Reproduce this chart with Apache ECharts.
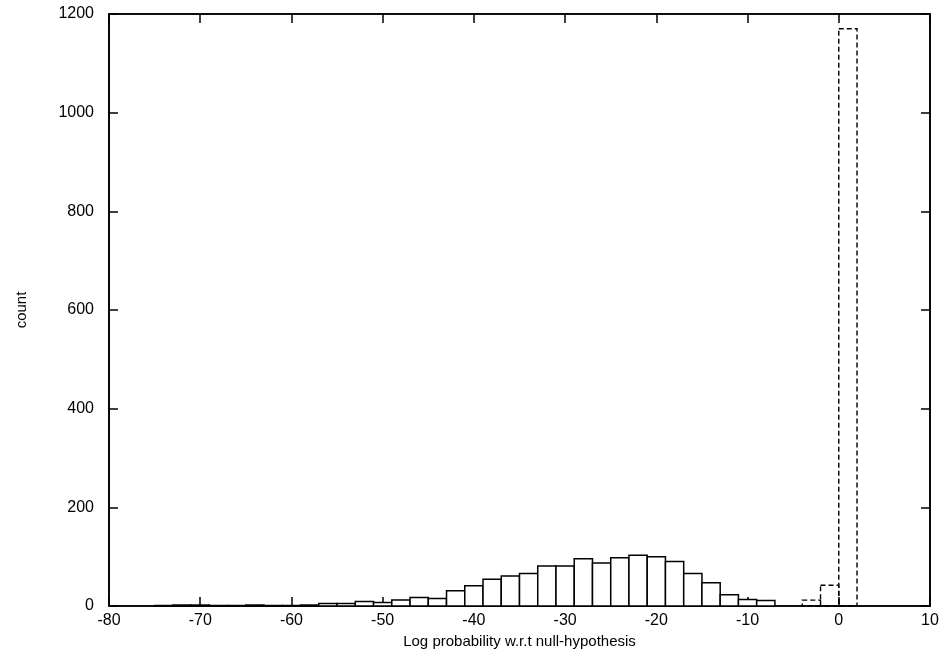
<!DOCTYPE html>
<html>
<head>
<meta charset="utf-8">
<script src="https://cdn.jsdelivr.net/npm/echarts@6/dist/echarts.min.js"></script>
<style>
  html, body { margin: 0; padding: 0; background: #fff; }
  #chart { width: 946px; height: 666px; }
</style>
</head>
<body>
<div id="chart"></div>
<script>
// Histogram of log probabilities (bin width 2)
const binWidth = 2;

// Solid histogram: bin centres and counts
const solidCenters = [-74, -72, -70, -68, -66, -64, -62, -60, -58, -56, -54, -52, -50, -48,
  -46, -44, -42, -40, -38, -36, -34, -32, -30, -28, -26, -24, -22, -20, -18, -16, -14, -12, -10, -8];
const solidCounts = [1, 2, 2, 1, 1, 2, 1, 1, 2, 5, 5, 9, 7, 12,
  17, 15, 31, 41, 54, 61, 66, 81, 81, 96, 87, 98, 103, 100, 90, 66, 47, 23, 13, 11];

// Dashed histogram: bin centres and counts
const dashedCenters = [-3, -1, 1];
const dashedCounts = [12, 42, 1170];

// Axis ticks
const xTicks = { min: -80, max: 10, step: 10 };
const yTicks = { min: 0, max: 1200, step: 200 };

const font = 'Liberation Sans, Arial, Helvetica, sans-serif';

function pairs(xs, ys) { return xs.map((x, i) => [x, ys[i]]); }

function makeRender(styleObj) {
  return function (params, api) {
    const c = api.value(0), v = api.value(1);
    const p0 = api.coord([c - binWidth / 2, v]);
    const p1 = api.coord([c + binWidth / 2, 0]);
    return {
      type: 'rect',
      shape: { x: p0[0], y: p0[1], width: p1[0] - p0[0], height: p1[1] - p0[1] },
      style: styleObj
    };
  };
}

const tickStyle = { show: true, inside: true, length: 9, lineStyle: { color: '#000', width: 1.5 } };
const lineStyle = { show: true, onZero: false, lineStyle: { color: '#000', width: 1.6 } };
const plain = v => String(v);

const chart = echarts.init(document.getElementById('chart'), null, { renderer: 'canvas' });
chart.setOption({
  animation: false,
  backgroundColor: '#fff',
  grid: { left: 109, right: 16, top: 14, bottom: 60, show: true, borderColor: '#000', borderWidth: 1.6, backgroundColor: 'transparent' },
  xAxis: [
    {
      type: 'value', position: 'bottom', min: xTicks.min, max: xTicks.max, interval: xTicks.step,
      axisLine: lineStyle, axisTick: tickStyle, splitLine: { show: false },
      axisLabel: { color: '#000', fontSize: 16, fontFamily: font, margin: 7, formatter: plain },
      name: 'Log probability w.r.t null-hypothesis', nameLocation: 'middle', nameGap: 22,
      nameTextStyle: { color: '#000', fontSize: 15, fontFamily: font }
    },
    {
      type: 'value', position: 'top', min: xTicks.min, max: xTicks.max, interval: xTicks.step,
      axisLine: lineStyle, axisTick: tickStyle, splitLine: { show: false }, axisLabel: { show: false }
    }
  ],
  yAxis: [
    {
      type: 'value', position: 'left', min: yTicks.min, max: yTicks.max, interval: yTicks.step,
      axisLine: lineStyle, axisTick: tickStyle, splitLine: { show: false },
      axisLabel: { color: '#000', fontSize: 16, fontFamily: font, margin: 15, formatter: plain },
      name: 'count', nameLocation: 'middle', nameGap: 80, nameRotate: 90,
      nameTextStyle: { color: '#000', fontSize: 15, fontFamily: font }
    },
    {
      type: 'value', position: 'right', min: yTicks.min, max: yTicks.max, interval: yTicks.step,
      axisLine: lineStyle, axisTick: tickStyle, splitLine: { show: false }, axisLabel: { show: false }
    }
  ],
  series: [
    {
      type: 'custom', name: 'solid', xAxisIndex: 0, yAxisIndex: 0,
      renderItem: makeRender({ fill: '#fff', stroke: '#000', lineWidth: 1.5 }),
      data: pairs(solidCenters, solidCounts), z: 2
    },
    {
      type: 'custom', name: 'dashed', xAxisIndex: 0, yAxisIndex: 0,
      renderItem: makeRender({ fill: null, stroke: '#000', lineWidth: 1.4, lineDash: [5, 3] }),
      data: pairs(dashedCenters, dashedCounts), z: 3
    }
  ]
});
</script>
</body>
</html>
